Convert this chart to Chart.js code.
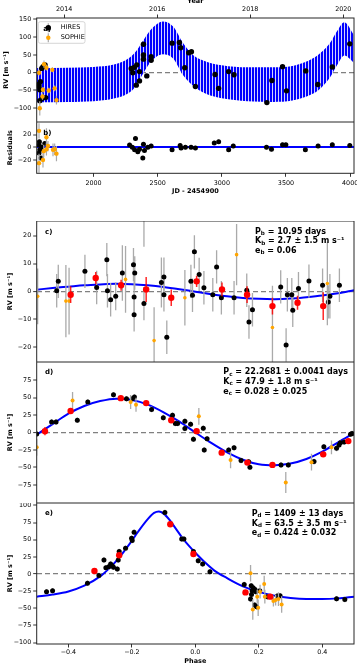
<!DOCTYPE html>
<html>
<head>
<meta charset="utf-8">
<title>RV fit</title>
<script src="https://cdn.jsdelivr.net/npm/chart.js@4.4.1/dist/chart.umd.min.js"></script>
<style>
  html, body { margin: 0; padding: 0; width: 357px; height: 664px; overflow: hidden; background: #fff; }
  .panel { position: absolute; left: 0; width: 357px; }
</style>
</head>
<body>
<div class="panel" style="top:-3px; height:125px"><canvas id="panelA"></canvas></div>
<div class="panel" style="top:122px; height:78px"><canvas id="panelB"></canvas></div>
<div class="panel" style="top:221px; height:141px"><canvas id="panelC"></canvas></div>
<div class="panel" style="top:362px; height:141px"><canvas id="panelD"></canvas></div>
<div class="panel" style="top:503px; height:163px"><canvas id="panelE"></canvas></div>
<script>
// ---- data ----
var jdMin = 1557, jdMax = 4030;
var yearMin = 2013.41, yearMax = 2020.23;
var yearTicks = [2014, 2016, 2018, 2020];
var jdTicks = [2000, 2500, 3000, 3500, 4000];
var phaseTicks = [-0.4, -0.2, 0, 0.2, 0.4];
var rvTicksA = [-100, -50, 0, 50, 100, 150];
var resTicks = [-20, 0, 20];
var rvTicksC = [-20, -10, 0, 10, 20];
var rvTicksD = [-75, -50, -25, 0, 25, 50, 75];
var rvTicksE = [-100, -75, -50, -25, 0, 25, 50, 75, 100];

// a) RV time series
var hiresJd = [1575, 1575, 1581, 1586, 1581, 1596, 1606, 1622, 1602, 1627,
  2294, 2306, 2318, 2337, 2358, 2333, 2358, 2389, 2389, 2389, 2415, 2449, 2449,
  2612, 2669, 2679, 2711, 2742, 2763, 2794, 2947, 2975, 3053, 3095, 3351, 3390, 3473, 3504, 3654, 3748, 3861, 3997];
var hiresRv = [-32, -39, -79, -25, -48, 12, 17, 22, -72, -70,
  12, 0, 15, 22, 3, -35, -23, 80, 50, 38, -9, 45, 35,
  83, 85, 70, 14, 56, 59, -39, -5, -44, 3, -6, -84, -22, 17, -51, 5, -33, 16, 81];
var hiresErrA = 3;
var sophieJd = [1575, 1581, 1614, 1633, 1679, 1606, 1602, 1651, 1697, 1711];
var sophieRv = [0, -100, 24, 14, 8, -48, -67, -50, -44, -77];
var sophieErrA = [8, 20, 10, 8, 7, 8, 9, 8, 8, 12];
// model band (envelope of the fast oscillation)
var bandJd = [1557, 1800, 2000, 2150, 2250, 2320, 2390, 2460, 2540, 2620, 2700, 2780, 2880, 3000, 3200, 3400, 3550, 3650, 3750, 3840, 3900, 3955, 4030];
var bandTop = [13, 14, 16, 22, 35, 55, 92, 126, 144, 130, 82, 48, 31, 21, 15, 15, 19, 30, 50, 82, 118, 142, 106];
var bandBottom = [-83, -82, -80, -73, -62, -42, 0, 36, 52, 40, -8, -38, -60, -72, -80, -82, -78, -68, -50, -15, 22, 48, 28];

// b) residuals
var resHiresJd = [1578, 1575, 1581, 1575, 1591, 1596, 1620,
  2281, 2302, 2320, 2327, 2345, 2358, 2389, 2384, 2397, 2423, 2449,
  2612, 2675, 2682, 2716, 2760, 2794, 2941, 2975, 3053, 3089, 3348, 3387, 3473, 3499, 3651, 3750, 3861, 3997];
var resHires = [9, 3.6, -4, -9, -17, 0, 6,
  3.6, 0, -4, 14, -7, -3, 5, -17, -5, 0, 2,
  -4, 3, -1, 0, 0, -1, 7, 9, -4, 2, 0, -3, 4, 4, -4, 2, 4, 3];
var resHiresErr = 3.5;
var resSophieJd = [1575, 1633, 1575, 1606, 1612, 1645, 1684, 1697, 1711, 1633];
var resSophie = [26, 16, -25, -20, -6, 2, -4, -3, -10, -3];
var resSophieErr = [12, 14, 15, 12, 10, 8, 10, 9, 12, 10];

// c) planet b, phase folded
var cHiresPh = [-0.437, -0.432, -0.348, -0.311, -0.279, -0.277, -0.267, -0.251, -0.230, -0.195,
  -0.193, -0.191, -0.193, -0.162, -0.107, -0.099, -0.099, -0.090, -0.014, -0.009,
  -0.003, 0.012, 0.027, 0.055, 0.067, 0.082, 0.122, 0.162, 0.169, 0.180,
  0.269, 0.286, 0.290, 0.304, 0.307, 0.325, 0.358, 0.401, 0.419, 0.424, 0.454];
var cHiresRv = [0.2, 3.6, 7.2, 1.4, 11.4, 0.2, -3, -1.8, 6.6, 9.6,
  -2, 6.6, -8.4, -4.4, 3.2, 5.2, -1.2, -16.5, 3.6, -1.4,
  14.2, 6.1, 1.3, -1.2, 8.8, -2.3, -2.3, 0.4, -11, -6.6,
  1.6, -19.3, -1.2, -1.2, -6.8, 1, 3.7, 2.2, -3.8, -1.8, 2.2];
var cHiresErr = [6, 6, 6, 6, 6, 6, 6, 5, 10, 6,
  6, 6, 6, 6, 9, 7, 6, 6, 6, 6,
  6, 6, 6, 6, 6, 6, 6, 6, 6, 6,
  6, 6, 6, 6, 6, 6, 6, 6, 6, 8, 6];
var cSophiePh = [-0.497, -0.408, -0.398, -0.220, -0.162, -0.130, -0.033, 0.130, 0.243, 0.416];
var cSophieRv = [-1.8, -3.5, -3.5, 4.3, 33, -17.7, -2.3, 13.2, -13, 2.8];
var cSophieErr = [10, 13, 12, 12, 17, 12, 10, 11, 15, 15];
var cBinPh = [-0.393, -0.314, -0.234, -0.155, -0.076, 0.004, 0.084, 0.163, 0.243, 0.322, 0.403];
var cBinRv = [-1.2, 4.8, 2.2, 0.7, -2.3, 3.6, 0.7, -1.2, -5.3, -4.1, -5.3];
var cBinErr = [3, 2.2, 2, 4.5, 3, 2, 2.5, 3, 3, 2.5, 5];
var modelPh = [-0.5, -0.45, -0.4, -0.35, -0.3, -0.25, -0.2, -0.15, -0.1, -0.05, 0,
  0.05, 0.1, 0.15, 0.2, 0.25, 0.3, 0.35, 0.4, 0.45, 0.5];
var cModelRv = [0.6, 1.2, 1.7, 2.2, 2.5, 2.7, 2.6, 2.2, 1.6, 0.8, -0.1,
  -1.0, -1.8, -2.4, -2.7, -2.8, -2.6, -2.1, -1.5, -0.7, 0.4];

// d) planet c
var dHiresPh = [-0.500, -0.453, -0.439, -0.372, -0.339, -0.258, -0.217, -0.199, -0.192, -0.138,
  -0.101, -0.072, -0.063, -0.056, -0.033, -0.033, -0.015, -0.006, 0.025, 0.028,
  0.037, 0.105, 0.122, 0.144, 0.172, 0.168, 0.270, 0.293, 0.374, 0.405,
  0.445, 0.453, 0.457, 0.469, 0.489, 0.494];
var dHiresRv = [-2, 15.2, 15.2, 17.5, 43.6, 54, 48.3, 48.3, 50.7, 33.1,
  21.3, 24.6, 12.8, 12.8, 16.1, 5.7, 11.8, -9.5, 6.2, -25,
  -9, -25, -21.8, -40.2, -49.7, -42, -46.4, -46.4, -41.7, -20.4,
  -22.7, -18, -14.7, -13.7, -2.4, -1.5];
var dHiresErr = 4;
var dSophiePh = [-0.5, -0.387, -0.204, -0.187, 0.011, 0.111, 0.285, 0.366, 0.429];
var dSophieRv = [-21.3, 46, 43.6, 39.8, 23.2, -39.3, -71.5, -42.6, -21.3];
var dSophieErr = [12, 12, 10, 10, 12, 12, 15, 12, 10];
var dBinPh = [-0.474, -0.393, -0.235, -0.155, -0.076, 0.004, 0.083, 0.164, 0.243, 0.403, 0.482];
var dBinRv = [1.9, 30.8, 49.2, 42.1, 17.5, 1.9, -28.9, -43.1, -46.4, -31.3, -12.3];
var dBinErr = [6, 3, 2, 2, 2, 2, 2, 2, 2, 2, 3];
var dModelRv = [-3, 12, 27, 38, 45, 48.5, 46.5, 40, 29, 15.5, 0,
  -15, -28.5, -39, -45.5, -47, -44.5, -38, -27.5, -14, -1];

// e) planet d
var eHiresPh = [-0.469, -0.450, -0.340, -0.304, -0.288, -0.282, -0.273, -0.267, -0.262, -0.258,
  -0.246, -0.243, -0.240, -0.220, -0.201, -0.199, -0.193, -0.096, -0.043, -0.036,
  -0.006, 0.009, 0.023, 0.046, 0.154, 0.176, 0.179, 0.174, 0.177, 0.182,
  0.188, 0.191, 0.203, 0.187, 0.193, 0.227, 0.258, 0.267, 0.445, 0.471];
var eHiresRv = [-25.8, -24.4, -13.6, -2, 20.5, 9.3, 10.7, 14.6, 12, 10,
  7.3, 20.5, 32.7, 37.5, 52.1, 49, 60.9, 89.7, 51.2, 51.2,
  32.7, 19.5, 14.6, 3.4, -15.1, -17, -24.4, -36.5, -30, -20,
  -22.4, -26, -24.4, -45.3, -47.8, -33.1, -32.2, -31.7, -36, -37];
var eHiresErr = 4;
var eSophiePh = [0.174, 0.181, 0.198, 0.195, 0.204, 0.217, 0.219, 0.246, 0.253, 0.262, 0.272];
var eSophieRv = [1, -51.7, -49.2, -33, -25.8, -14.6, -33.1, -39.5, -38, -36.5, -44.3];
var eSophieErr = [12, 15, 12, 10, 10, 12, 10, 8, 8, 10, 12];
var eBinPh = [-0.318, -0.240, -0.079, -0.006, 0.158, 0.236];
var eBinRv = [4.4, 27.3, 72.6, 29.2, -26.8, -33];
var eBinErr = [2, 2, 4, 3, 2, 2];
var eModelPh = [-0.5, -0.45, -0.4, -0.35, -0.3, -0.27, -0.24, -0.21, -0.18, -0.15, -0.13, -0.115, -0.1,
  -0.08, -0.06, -0.04, -0.02, 0, 0.03, 0.06, 0.1, 0.15, 0.2, 0.25, 0.3, 0.35, 0.4, 0.45, 0.5];
var eModelRv = [-33, -30, -25.5, -17, -3.5, 9, 24, 42, 62, 80, 89, 91, 88,
  78, 65, 52, 41, 31, 17, 5, -6, -18, -26, -31.5, -35, -36.5, -36.5, -35.5, -33];

// ---- styles ----
var FONT = '"DejaVu Sans", sans-serif';
var TICK_SIZE = 6.4;
var HIRES_COLOR = '#000000', SOPHIE_COLOR = '#ffa500', BIN_COLOR = '#ff0000', MODEL_COLOR = '#0000ff';
var ERR_COLOR = '#aaaaaa', ZERO_COLOR = '#808080';

// ---- plugins ----
var errorBars = {
  id: 'errorBars',
  beforeDatasetDraw: function (chart, args) {
    var ds = chart.data.datasets[args.index];
    if (ds.errs === undefined) return;
    var meta = args.meta, yS = meta.vScale, a = chart.chartArea, ctx = chart.ctx;
    ctx.save();
    ctx.beginPath();
    ctx.rect(a.left, a.top, a.width, a.height);
    ctx.clip();
    ctx.strokeStyle = ds.errColor;
    ctx.lineWidth = ds.errWidth;
    meta.data.forEach(function (pt, i) {
      var e = Array.isArray(ds.errs) ? ds.errs[i] : ds.errs;
      var v = ds.data[i].y;
      ctx.beginPath();
      ctx.moveTo(pt.x, yS.getPixelForValue(v - e));
      ctx.lineTo(pt.x, yS.getPixelForValue(v + e));
      ctx.stroke();
    });
    ctx.restore();
  }
};

var frameBox = {
  id: 'frameBox',
  afterDraw: function (chart) {
    var a = chart.chartArea, ctx = chart.ctx;
    ctx.save();
    ctx.strokeStyle = '#262626';
    ctx.lineWidth = 1;
    ctx.strokeRect(a.left, a.top, a.width, a.height);
    ctx.restore();
  }
};

var panelText = {
  id: 'panelText',
  afterDraw: function (chart, args, o) {
    if (!o || !o.label) return;
    var a = chart.chartArea, ctx = chart.ctx;
    ctx.save();
    ctx.fillStyle = '#000';
    ctx.textBaseline = 'middle';
    ctx.textAlign = 'left';
    ctx.font = 'bold 7px ' + FONT;
    ctx.fillText(o.label, a.left + o.lx, a.top + o.ly);
    (o.lines || []).forEach(function (parts, i) {
      var x = a.left + o.px, y = a.top + o.py + i * 9.7;
      parts.forEach(function (p) {
        ctx.font = 'bold ' + (p[1] ? 5.6 : 8) + 'px ' + FONT;
        ctx.fillText(p[0], x, p[1] ? y + 2 : y);
        x += ctx.measureText(p[0]).width;
      });
    });
    ctx.restore();
  }
};

Chart.register(errorBars, frameBox, panelText);

var legendA = {
  id: 'legendA',
  afterDraw: function (chart) {
    var a = chart.chartArea, ctx = chart.ctx;
    ctx.save();
    ctx.beginPath();
    ctx.roundRect(a.left + 1.6, a.top + 3.7, 46.7, 21.6, 2);
    ctx.fillStyle = 'rgba(255,255,255,0.8)';
    ctx.fill();
    ctx.strokeStyle = '#cccccc';
    ctx.lineWidth = 0.8;
    ctx.stroke();
    [[HIRES_COLOR, 'HIRES', 9.7, 2.7], [SOPHIE_COLOR, 'SOPHIE', 19.7, 2.2]].forEach(function (e) {
      var cx = a.left + 11.6, cy = a.top + e[2];
      ctx.strokeStyle = ERR_COLOR;
      ctx.lineWidth = 1.2;
      ctx.beginPath(); ctx.moveTo(cx, cy - 4.5); ctx.lineTo(cx, cy + 4.5); ctx.stroke();
      ctx.fillStyle = e[0];
      ctx.beginPath(); ctx.arc(cx, cy, e[3], 0, 2 * Math.PI); ctx.fill();
      ctx.font = '6.5px ' + FONT;
      ctx.textBaseline = 'middle';
      ctx.fillStyle = '#000';
      ctx.fillText(e[1], a.left + 24, cy);
    });
    ctx.font = 'bold 7px ' + FONT;
    ctx.fillText('a)', a.left + 6.6, a.top + 11.5);
    ctx.restore();
  }
};

// ---- helpers ----
function pts(xs, ys) {
  return xs.map(function (x, i) { return { x: x, y: ys[i] }; });
}

function markers(xs, ys, errs, color, r, errColor, errWidth) {
  return {
    type: 'scatter', data: pts(xs, ys), errs: errs, errColor: errColor, errWidth: errWidth,
    pointRadius: r, pointHoverRadius: r, pointBackgroundColor: color, pointBorderWidth: 0, clip: 0
  };
}

function curve(xs, ys) {
  return {
    type: 'line', data: pts(xs, ys), borderColor: MODEL_COLOR, borderWidth: 2, pointRadius: 0,
    cubicInterpolationMode: 'monotone', fill: false, clip: 0
  };
}

function fixedTicks(list) {
  return function (s) { s.ticks = list.map(function (v) { return { value: v }; }); };
}

function minus(v) { return String(v).replace('-', '\u2212'); }

function yAxis(min, max, ticks, title, titleX, zeroColor, zeroWidth, zeroDash) {
  return {
    type: 'linear', position: 'left', min: min, max: max,
    afterBuildTicks: fixedTicks(ticks),
    afterFit: function (s) { s.width = 36.7; s.paddingTop = 0; s.paddingBottom = 0; },
    ticks: { font: { family: FONT, size: TICK_SIZE }, color: '#000', padding: 2, autoSkip: false, callback: minus },
    grid: {
      drawOnChartArea: true, drawTicks: true, tickLength: 3.5, tickColor: '#000', tickWidth: 0.8,
      color: function (c) { return c.tick && c.tick.value === 0 ? zeroColor : 'rgba(0,0,0,0)'; },
      lineWidth: function (c) { return c.tick && c.tick.value === 0 ? zeroWidth : 0; }
    },
    border: { display: false, dash: zeroDash },
    title: {
      display: true, text: title, color: '#000', font: { family: FONT, size: 6.5, weight: 'bold' },
      padding: { top: titleX - 3.9, bottom: 0 }
    }
  };
}

function xAxis(min, max, ticks, fmt, pos, height, labelPad, title, titlePad) {
  return {
    type: 'linear', position: pos, min: min, max: max,
    afterBuildTicks: fixedTicks(ticks),
    afterFit: function (s) { s.height = height; s.paddingLeft = 0; s.paddingRight = 0; },
    ticks: { font: { family: FONT, size: TICK_SIZE }, color: '#000', padding: labelPad, maxRotation: 0, autoSkip: false, callback: fmt },
    grid: { drawOnChartArea: false, drawTicks: true, tickLength: 3.5, tickColor: '#000', tickWidth: 0.8 },
    border: { display: false },
    title: {
      display: true, text: title, color: '#000', font: { family: FONT, size: 6.5, weight: 'bold' },
      padding: titlePad
    }
  };
}

function hiddenX(min, max) {
  return { type: 'linear', display: false, min: min, max: max };
}

function options(scales, plugins) {
  var p = { legend: { display: false }, tooltip: { enabled: false } };
  for (var k in plugins) p[k] = plugins[k];
  return {
    responsive: true, maintainAspectRatio: false, animation: false, events: [],
    layout: { padding: { left: 0, right: 3, top: 0, bottom: 0 }, autoPadding: false },
    scales: scales,
    plugins: p
  };
}

// vertical stripes standing in for the dense short-period oscillation
function stripes() {
  var c = document.createElement('canvas');
  c.width = 3; c.height = 1;
  var g = c.getContext('2d');
  g.fillStyle = MODEL_COLOR; g.fillRect(0, 0, 3, 1);
  g.fillStyle = '#d2d2ff'; g.fillRect(2, 0, 1, 1);
  return g.createPattern(c, 'repeat');
}

function sub(sym, s, rest) { return [[sym], [s, 1], [rest]]; }

// ---- a) ----
new Chart(document.getElementById('panelA'), {
  type: 'scatter',
  data: {
    datasets: [
      markers(sophieJd, sophieRv, sophieErrA, SOPHIE_COLOR, 2.2, ERR_COLOR, 1.2),
      markers(hiresJd, hiresRv, hiresErrA, HIRES_COLOR, 2.7, ERR_COLOR, 1.2),
      { type: 'line', data: pts(bandJd, bandTop), borderWidth: 0, borderColor: 'rgba(0,0,0,0)', pointRadius: 0,
        fill: '+1', backgroundColor: stripes(), cubicInterpolationMode: 'monotone', clip: 0 },
      { type: 'line', data: pts(bandJd, bandBottom), borderWidth: 0, borderColor: 'rgba(0,0,0,0)', pointRadius: 0,
        fill: false, cubicInterpolationMode: 'monotone', clip: 0 }
    ]
  },
  options: options({
    x: hiddenX(jdMin, jdMax),
    x2: xAxis(yearMin, yearMax, yearTicks, String, 'top', 21, 1, 'Year', { top: 0.1, bottom: 0 }),
    y: yAxis(-138.5, 153.6, rvTicksA, 'RV [m s\u207B\u00B9]', 6.5, ZERO_COLOR, 1.2, [5, 3])
  }, {}),
  plugins: [legendA]
});

// ---- b) ----
new Chart(document.getElementById('panelB'), {
  type: 'scatter',
  data: {
    datasets: [
      markers(resSophieJd, resSophie, resSophieErr, SOPHIE_COLOR, 2.2, ERR_COLOR, 1.2),
      markers(resHiresJd, resHires, resHiresErr, HIRES_COLOR, 2.5, ERR_COLOR, 1.2)
    ]
  },
  options: options({
    x: xAxis(jdMin, jdMax, jdTicks, String, 'bottom', 26.7, 2.5, 'JD - 2454900', { top: 0, bottom: 4.4 }),
    y: yAxis(-41, 40, resTicks, 'Residuals', 10, MODEL_COLOR, 2, [])
  }, { panelText: { label: 'b)', lx: 6.6, ly: 10.7 } })
});

// ---- c) ----
new Chart(document.getElementById('panelC'), {
  type: 'scatter',
  data: {
    datasets: [
      markers(cBinPh, cBinRv, cBinErr, BIN_COLOR, 3.2, 'rgba(255,0,0,0.85)', 1.5),
      markers(cSophiePh, cSophieRv, cSophieErr, SOPHIE_COLOR, 1.8, ERR_COLOR, 1.3),
      markers(cHiresPh, cHiresRv, cHiresErr, HIRES_COLOR, 2.5, ERR_COLOR, 1.3),
      curve(modelPh, cModelRv)
    ]
  },
  options: options({
    x: hiddenX(-0.5, 0.5),
    y: yAxis(-25.4, 25.3, rvTicksC, 'RV [m s\u207B\u00B9]', 10.5, ZERO_COLOR, 1.2, [5, 3])
  }, { panelText: { label: 'c)', lx: 8.3, ly: 11, px: 218.3, py: 10.6, lines: [
    sub('P', 'b', ' = 10.95 days'),
    sub('K', 'b', ' = 2.7 \u00B1 1.5 m s\u207B\u00B9'),
    sub('e', 'b', ' = 0.06')
  ] } })
});

// ---- d) ----
new Chart(document.getElementById('panelD'), {
  type: 'scatter',
  data: {
    datasets: [
      markers(dBinPh, dBinRv, dBinErr, BIN_COLOR, 3.2, 'rgba(255,0,0,0.85)', 1.5),
      markers(dSophiePh, dSophieRv, dSophieErr, SOPHIE_COLOR, 2, ERR_COLOR, 1.3),
      markers(dHiresPh, dHiresRv, dHiresErr, HIRES_COLOR, 2.5, ERR_COLOR, 1.3),
      curve(modelPh, dModelRv)
    ]
  },
  options: options({
    x: hiddenX(-0.5, 0.5),
    y: yAxis(-101, 101, rvTicksD, 'RV [m s\u207B\u00B9]', 10.5, ZERO_COLOR, 1.2, [5, 3])
  }, { panelText: { label: 'd)', lx: 8.3, ly: 10.3, px: 186.6, py: 10.3, lines: [
    sub('P', 'c', ' = 22.2681 \u00B1 0.0041 days'),
    sub('K', 'c', ' = 47.9 \u00B1 1.8 m s\u207B\u00B9'),
    sub('e', 'c', ' = 0.028 \u00B1 0.025')
  ] } })
});

// ---- e) ----
new Chart(document.getElementById('panelE'), {
  type: 'scatter',
  data: {
    datasets: [
      markers(eBinPh, eBinRv, eBinErr, BIN_COLOR, 3.2, 'rgba(255,0,0,0.85)', 1.5),
      markers(eSophiePh, eSophieRv, eSophieErr, SOPHIE_COLOR, 2, ERR_COLOR, 1.3),
      markers(eHiresPh, eHiresRv, eHiresErr, HIRES_COLOR, 2.5, ERR_COLOR, 1.3),
      curve(eModelPh, eModelRv)
    ]
  },
  options: options({
    x: xAxis(-0.5, 0.5, phaseTicks, function (v) { return minus(v.toFixed(1)); }, 'bottom', 22, 1, 'Phase', { top: 0, bottom: 1.1 }),
    y: yAxis(-102, 103.5, rvTicksE, 'RV [m s\u207B\u00B9]', 10.5, ZERO_COLOR, 1.2, [5, 3])
  }, { panelText: { label: 'e)', lx: 8.3, ly: 10, px: 215, py: 11, lines: [
    sub('P', 'd', ' = 1409 \u00B1 13 days'),
    sub('K', 'd', ' = 63.5 \u00B1 3.5 m s\u207B\u00B9'),
    sub('e', 'd', ' = 0.424 \u00B1 0.032')
  ] } })
});
</script>
</body>
</html>
